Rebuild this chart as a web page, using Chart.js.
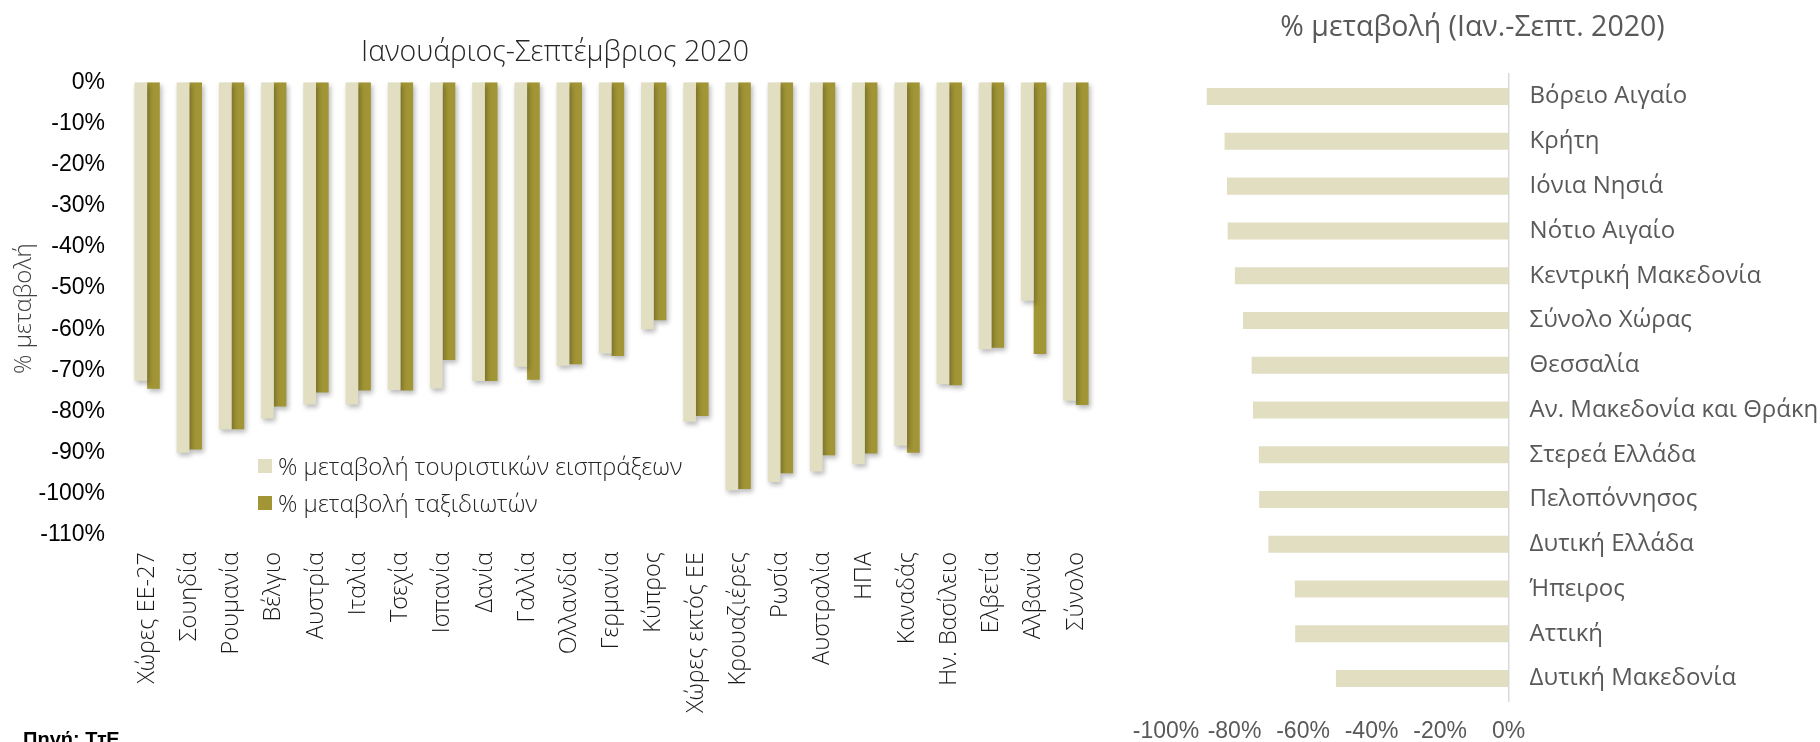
<!DOCTYPE html>
<html>
<head>
<meta charset="utf-8">
<script src="https://cdn.jsdelivr.net/npm/chart.js@4.4.0/dist/chart.umd.min.js"></script>
<style>
  body { margin:0; width:1820px; height:742px; overflow:hidden; background:#fff; position:relative; font-family:'Open Sans', sans-serif; }
  #leftBox { position:absolute; left:0; top:0; width:1110px; height:742px; }
  #rightBox { position:absolute; left:1125px; top:0; width:695px; height:742px; }
  .legend { position:absolute; left:258px; top:447px; font-size:24px; font-weight:300; color:#262626; }
  .legend div { display:flex; align-items:center; height:37px; }
  .legend span.sw { width:14px; height:14px; margin-right:6px; display:inline-block; }
  .source { position:absolute; left:23px; top:728px; font:bold 20px 'Liberation Sans', Arial, sans-serif; color:#000; }
</style>
</head>
<body>
<div id="leftBox"><canvas id="countryChart" width="1110" height="742"></canvas></div>
<div id="rightBox"><canvas id="regionChart" width="695" height="742"></canvas></div>
<div class="legend" id="legend"></div>
<div class="source">Πηγή: ΤτΕ</div>

<script>
// Left chart data (Jan-Sep 2020, % change)
const countries = ['Χώρες ΕΕ-27','Σουηδία','Ρουμανία','Βέλγιο','Αυστρία','Ιταλία','Τσεχία','Ισπανία','Δανία','Γαλλία',
  'Ολλανδία','Γερμανία','Κύπρος','Χώρες εκτός ΕΕ','Κρουαζιέρες','Ρωσία','Αυστραλία','ΗΠΑ','Καναδάς','Ην. Βασίλειο',
  'Ελβετία','Αλβανία','Σύνολο'];
const receiptsChange = [-72.5,-90.0,-84.4,-81.7,-78.3,-78.3,-74.8,-74.4,-72.6,-69.1,
  -68.9,-65.9,-60.0,-82.5,-99.1,-97.1,-94.6,-92.8,-88.3,-73.4,
  -64.9,-53.1,-77.4];
const travellersChange = [-74.5,-89.2,-84.3,-78.8,-75.4,-74.9,-74.9,-67.5,-72.6,-72.3,
  -68.5,-66.5,-57.8,-81.1,-98.8,-95.0,-90.6,-90.2,-90.0,-73.6,
  -64.5,-66.0,-78.4];
const seriesNames = ['% μεταβολή τουριστικών εισπράξεων','% μεταβολή ταξιδιωτών'];

// Right chart data
const regions = ['Βόρειο Αιγαίο','Κρήτη','Ιόνια Νησιά','Νότιο Αιγαίο','Κεντρική Μακεδονία','Σύνολο Χώρας','Θεσσαλία',
  'Αν. Μακεδονία και Θράκη','Στερεά Ελλάδα','Πελοπόννησος','Δυτική Ελλάδα','Ήπειρος','Αττική','Δυτική Μακεδονία'];
const regionChange = [-88.1,-82.9,-82.2,-82.0,-79.9,-77.5,-75.0,-74.6,-72.9,-72.8,-70.1,-62.4,-62.3,-50.4];

const cream = '#E1DEC1';
const olive = '#A19535';

// soft drop shadow under the bars of the left chart
const barShadow = {
  id:'barShadow',
  beforeDatasetsDraw(chart) {
    const c = chart.ctx;
    c.save();
    c.shadowColor = 'rgba(0,0,0,0.28)';
    c.shadowBlur = 5;
    c.shadowOffsetX = 2;
    c.shadowOffsetY = 3;
  },
  afterDatasetsDraw(chart) { chart.ctx.restore(); }
};

const pct = v => v + '%';

// empty axis used only as a spacer, so the titles stay centred on the whole canvas
const spacer = (pos, w) => ({
  position: pos, axis: 'y', type: 'linear', display: true,
  grid: { display:false, drawTicks:false }, border: { display:false },
  ticks: { display:false },
  afterFit(s) { s.width = w; }
});

// fixed height for a horizontal axis, and no extra side padding for its end labels
const fixHeight = h => s => { s.height = h; s.paddingLeft = 0; s.paddingRight = 0; };

new Chart(document.getElementById('countryChart'), {
  type:'bar',
  data:{
    labels: countries,
    datasets:[
      { label: seriesNames[0], data: receiptsChange, backgroundColor: cream },
      { label: seriesNames[1], data: travellersChange, backgroundColor: olive }
    ]
  },
  options:{
    responsive:false,
    animation:false,
    layout:{ padding:0 },
    datasets:{ bar:{ categoryPercentage:0.6, barPercentage:1 } },
    plugins:{
      legend:{ display:false },
      tooltip:{ enabled:false },
      title:{
        display:true,
        text:'Ιανουάριος-Σεπτέμβριος 2020',
        color:'#262626',
        font:{ family:'Open Sans', size:28.5, weight:300 },
        padding:{ top:36, bottom:12 }
      }
    },
    scales:{
      x:{
        grid:{ display:false, drawTicks:false },
        border:{ display:false },
        ticks:{ autoSkip:false, maxRotation:90, minRotation:90, padding:17, color:'#1a1a1a',
          font:{ family:'Open Sans', size:23.5, weight:300 } },
        afterFit: fixHeight(207)
      },
      y:{
        min:-110, max:0,
        grid:{ display:false, drawTicks:false },
        border:{ display:false },
        ticks:{ stepSize:10, padding:21, color:'#000', callback:pct,
          font:{ family:'Liberation Sans', size:23 } },
        title:{ display:true, text:'% μεταβολή', color:'#404040',
          font:{ family:'Open Sans', size:24, weight:300 }, padding:{ top:10, bottom:0 } },
        afterFit(s) { s.width = 126; }
      },
      pad: spacer('right', 13)
    }
  },
  plugins:[barShadow]
});

new Chart(document.getElementById('regionChart'), {
  type:'bar',
  data:{
    labels: regions,
    datasets:[{ label:'% μεταβολή', data: regionChange, backgroundColor: cream }]
  },
  options:{
    indexAxis:'y',
    responsive:false,
    animation:false,
    layout:{ padding:0 },
    datasets:{ bar:{ categoryPercentage:0.38, barPercentage:1 } },
    plugins:{
      legend:{ display:false },
      tooltip:{ enabled:false },
      title:{
        display:true,
        text:'% μεταβολή (Ιαν.-Σεπτ. 2020)',
        color:'#595959',
        font:{ family:'Open Sans', size:28.5, weight:'normal' },
        padding:{ top:11, bottom:29 }
      }
    },
    scales:{
      x:{
        min:-100, max:0,
        grid:{ display:false, drawTicks:false },
        border:{ display:false },
        ticks:{ stepSize:20, padding:17, color:'#595959', callback:pct, autoSkip:false,
          maxRotation:0, minRotation:0,
          font:{ family:'Liberation Sans', size:23 } },
        afterFit: fixHeight(41)
      },
      y:{
        position:'right',
        grid:{ display:false, drawTicks:false },
        border:{ display:true, color:'#d9d9d9', width:1.5 },
        ticks:{ padding:21, color:'#595959', autoSkip:false,
          font:{ family:'Open Sans', size:24 } },
        afterFit(s) { s.width = 311.4; }
      },
      pad: spacer('left', 41)
    }
  }
});

// legend in the chart area, as in the original
const legendEl = document.getElementById('legend');
[cream, olive].forEach((col, i) => {
  const row = document.createElement('div');
  row.innerHTML = `<span class="sw" style="background:${col}"></span>${seriesNames[i]}`;
  legendEl.appendChild(row);
});
</script>
</body>
</html>
